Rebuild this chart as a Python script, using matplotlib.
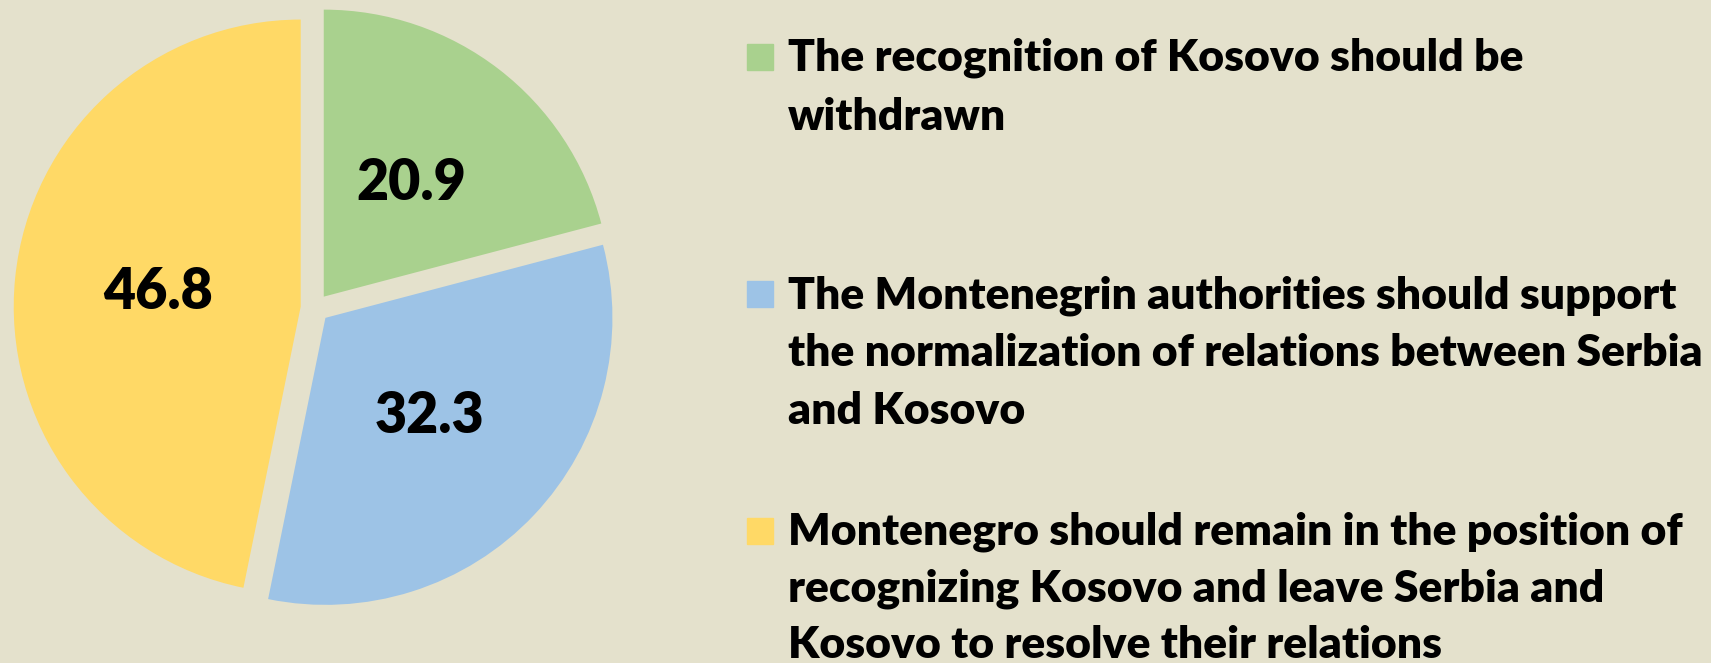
import matplotlib.pyplot as plt
from matplotlib.patches import Rectangle

values = [20.9, 32.3, 46.8]
colors = ['#A9D18E', '#9DC3E6', '#FFD966']
legend_lines = [
    ['The recognition of Kosovo should be', 'withdrawn'],
    ['The Montenegrin authorities should support',
     'the normalization of relations between Serbia',
     'and Kosovo'],
    ['Montenegro should remain in the position of',
     'recognizing Kosovo and leave Serbia and',
     'Kosovo to resolve their relations'],
]

W, H = 1711, 663
bg = '#E4E1CC'
plt.rcParams['font.family'] = ['Lato', 'DejaVu Sans']

fig = plt.figure(figsize=(W/100, H/100), dpi=100, facecolor=bg)

# pie: centre (315, 308) px, radius 287 px
cx, cy, r = 315, 308, 287
half = 1.2 * r
ax = fig.add_axes([(cx-half)/W, (H-cy-half)/H, 2*half/W, 2*half/H])
ax.pie(values, colors=colors, startangle=90, counterclock=False,
       explode=[0.05]*3, radius=1, pctdistance=0.5,
       autopct=lambda p: f'{p:.1f}',
       textprops=dict(fontsize=40, fontweight='heavy', color='black'),
       wedgeprops=dict(linewidth=0))
ax.set_xlim(-1.2, 1.2)
ax.set_ylim(-1.2, 1.2)
ax.set_aspect('equal')
ax.axis('off')

# legend at the right
x_box, x_text = 747, 788
first_base = [71, 308, 545]
steps = [59, 58, 56.5]
for lines, col, y0, step in zip(legend_lines, colors, first_base, steps):
    fig.patches.append(Rectangle((x_box/W, 1-(y0-1)/H), 26/W, 26/H,
                                 transform=fig.transFigure, color=col))
    for i, t in enumerate(lines):
        fig.text(x_text/W, 1-(y0+i*step)/H, t, fontsize=32,
                 fontweight='heavy', va='baseline', ha='left')

fig.savefig('out.png', dpi=100, facecolor=bg)
